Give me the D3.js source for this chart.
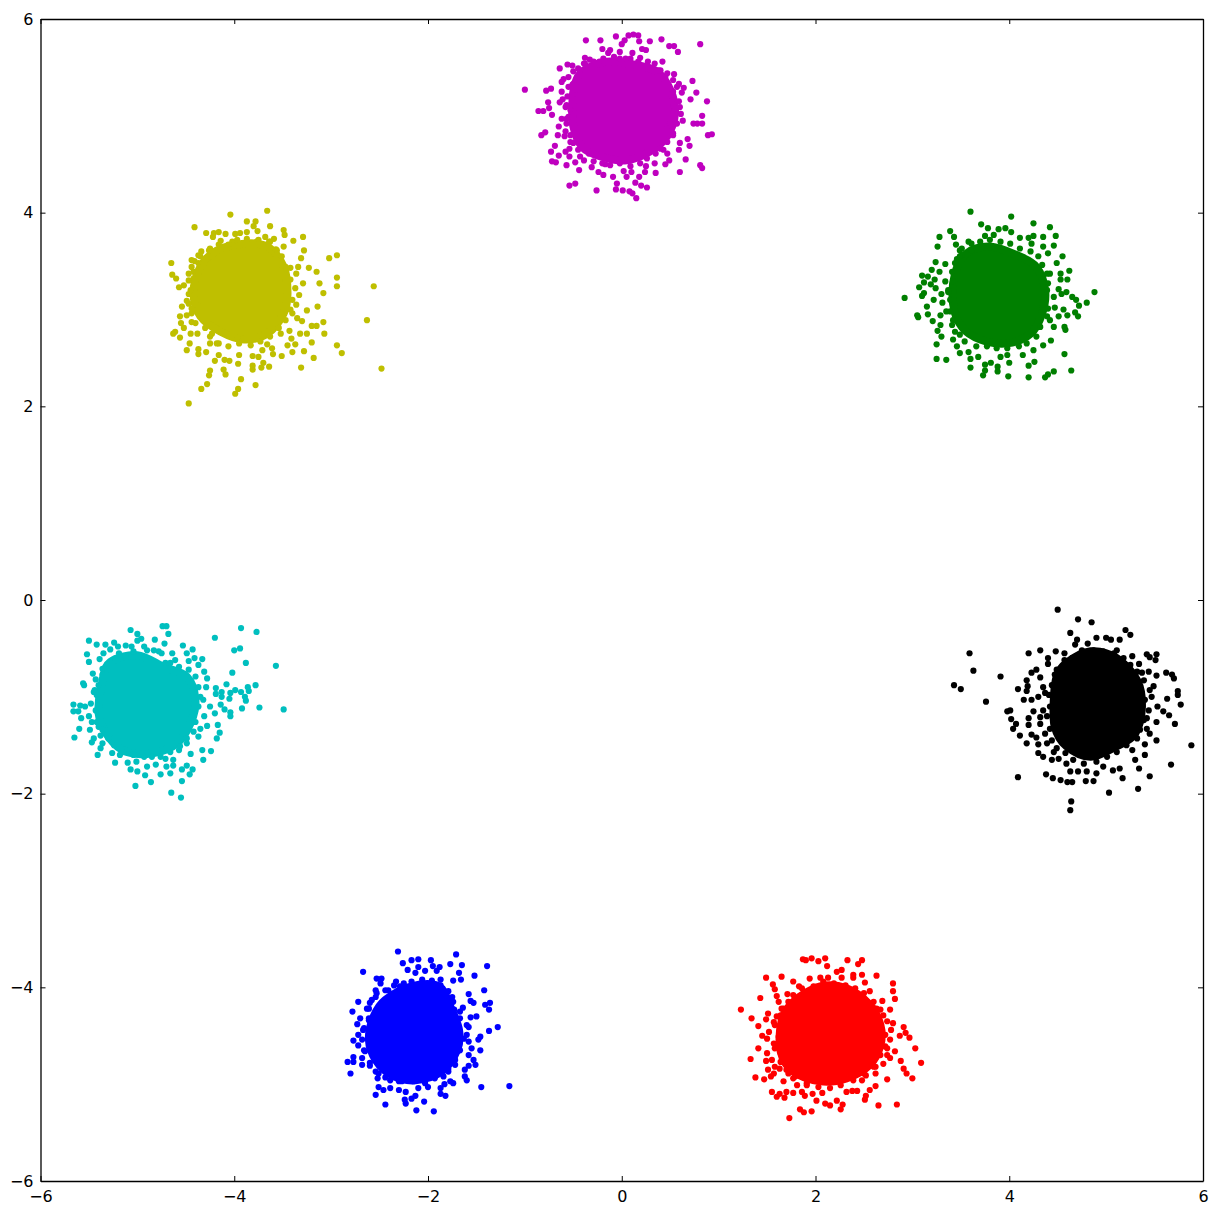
<!DOCTYPE html>
<html>
<head>
<meta charset="utf-8">
<script src="https://cdn.jsdelivr.net/npm/d3@7"></script>
<style>
html,body{margin:0;padding:0;background:#fff;}
svg{display:block;}
text{font-family:"DejaVu Sans",sans-serif;}
</style>
</head>
<body>
<svg id="chart" width="1217" height="1215"></svg>
<script>
const xDomain = [-6, 6];
const yDomain = [-6, 6];
const tickValues = [-6, -4, -2, 0, 2, 4, 6];

// Individually readable points.
// Each *Band array holds points estimated along the crowded edge of the solid mass.
// Each *Core array is the traced outline of a region where points overlap into solid colour.
const magentaPoints = [[-1.00,5.27],[-.37,5.78],[-.22,5.78],[-.06,5.82],[.07,5.83],[.12,5.84],[.17,5.83],[.03,5.78],[.18,5.77],[.29,5.77],[.41,5.79],[.49,5.72],[.54,5.72],[.58,5.66],[.81,5.74],[-.20,5.69],[-.12,5.68],[-.14,5.65],[0,5.74],[-.02,5.66],[.21,5.69],[.25,5.68],[.11,5.65],[-.38,5.60],[-.33,5.58],[-.23,5.56],[.04,5.59],[.19,5.60],[.42,5.56],[.27,5.56],[-.56,5.53],[-.51,5.52],[-.39,5.54],[-.64,5.49],[-.50,5.46],[-.45,5.49],[.34,5.54],[.40,5.47],[.47,5.44],[.54,5.43],[-.55,5.40],[-.60,5.38],[-.62,5.35],[.73,5.36],[.59,5.33],[.64,5.29],[.77,5.24],[.62,5.24],[.53,5.25],[.71,5.17],[.88,5.15],[-.78,5.26],[-.73,5.28],[-.62,5.25],[-.55,5.30],[-.50,5.33],[-.56,5.20],[-.61,5.17],[-.64,5.14],[-.76,5.14],[-.75,5.08],[-.86,5.05],[-.81,5.05],[-.72,5.01],[-.58,5.09],[-.53,5.06],[.60,5.09],[.53,5.03],[.61,5.02],[.83,5.00],[.63,4.95],[.57,4.92],[.74,4.92],[.78,4.92],[.83,4.92],[.89,4.80],[.93,4.81],[-.62,4.97],[-.57,4.97],[-.65,4.89],[-.79,4.83],[-.83,4.80],[-.66,4.80],[-.58,4.84],[-.59,4.79],[-.53,4.73],[-.69,4.69],[-.73,4.63],[-.65,4.59],[-.58,4.63],[-.54,4.66],[-.54,4.58],[-.72,4.53],[-.68,4.52],[-.57,4.49],[-.48,4.52],[-.43,4.58],[-.39,4.54],[-.44,4.44],[-.31,4.47],[-.26,4.60],[-.24,4.42],[-.19,4.39],[-.17,4.50],[-.09,4.37],[-.54,4.28],[-.48,4.30],[-.26,4.23],[-.05,4.30],[-.06,4.24],[.01,4.23],[.08,4.22],[.11,4.20],[.15,4.15],[.05,4.37],[.14,4.31],[.20,4.28],[.26,4.26],[.18,4.37],[.02,4.43],[.10,4.42],[.24,4.42],[.25,4.48],[.35,4.41],[.34,4.51],[.45,4.50],[.49,4.54],[.60,4.42],[.66,4.55],[.81,4.49],[.83,4.46],[.59,4.65],[.70,4.69],[.68,4.76],[.60,4.72],[.53,4.80],[.47,4.89],[.43,4.65],[.47,4.61]];
const magentaBand = [[-.43,5.47],[-.38,5.54],[-.29,5.56],[-.19,5.59],[-.08,5.61],[-.02,5.59],[.09,5.59],[.17,5.56],[.26,5.51],[.38,5.47],[.45,5.40],[.53,5.37],[.57,5.30],[.53,5.18],[.59,5.15],[.55,5.08],[.50,4.92],[.53,4.82],[.47,4.73],[.40,4.66],[.35,4.61],[.26,4.56],[.19,4.51],[.09,4.48],[-.02,4.51],[-.12,4.49],[-.20,4.51],[-.29,4.53],[-.34,4.61],[-.45,4.65],[-.50,4.72],[-.53,4.80],[-.57,4.92],[-.55,4.99],[-.57,5.11],[-.51,5.22],[-.51,5.32],[-.46,5.40]];
const magentaCore = [[-.39,5.47],[-.15,5.56],[.12,5.53],[.36,5.46],[.50,5.27],[.55,5.03],[.47,4.79],[.29,4.63],[.05,4.54],[-.22,4.58],[-.41,4.68],[-.50,4.89],[-.51,5.13],[-.48,5.34]];

const yellowPoints = [[-3.66,4.02],[-4.04,3.98],[-4.41,3.85],[-3.87,3.91],[-3.78,3.91],[-3.63,3.86],[-3.80,3.86],[-3.49,3.82],[-3.48,3.77],[-3.29,3.75],[-3.39,3.71],[-4.29,3.79],[-4.21,3.79],[-4.16,3.80],[-4.09,3.78],[-4.22,3.75],[-3.99,3.78],[-3.94,3.79],[-3.87,3.80],[-3.76,3.81],[-3.68,3.75],[-3.59,3.73],[-4.14,3.71],[-4.02,3.70],[-3.77,3.70],[-3.63,3.70],[-3.49,3.65],[-3.57,3.62],[-3.28,3.61],[-3.31,3.53],[-3.02,3.53],[-2.94,3.56],[-4.34,3.60],[-4.25,3.63],[-4.37,3.56],[-4.44,3.51],[-4.41,3.50],[-4.65,3.48],[-4.64,3.36],[-4.60,3.32],[-4.47,3.37],[-4.52,3.25],[-4.57,3.23],[-4.42,3.39],[-4.47,3.16],[-4.49,3.09],[-4.54,3.03],[-4.44,3.01],[-4.38,3.04],[-4.49,2.94],[-4.56,2.93],[-4.55,2.86],[-4.44,2.87],[-4.52,2.81],[-4.63,2.75],[-4.61,2.77],[-4.56,2.71],[-4.45,2.75],[-4.38,2.75],[-4.46,2.65],[-4.49,2.58],[-4.37,2.59],[-4.37,2.54],[-4.29,2.56],[-4.25,2.65],[-4.16,2.65],[-4.20,2.47],[-4.16,2.53],[-4.10,2.48],[-4.05,2.47],[-3.96,2.44],[-3.95,2.53],[-4.25,2.37],[-4.26,2.32],[-4.11,2.38],[-4.09,2.33],[-4.28,2.23],[-4.34,2.18],[-4.47,2.03],[-3.93,2.28],[-3.96,2.18],[-3.99,2.13],[-3.78,2.22],[-3.81,2.42],[-3.81,2.38],[-3.72,2.40],[-3.70,2.45],[-3.64,2.41],[-3.81,2.52],[-3.75,2.51],[-3.71,2.58],[-3.61,2.60],[-3.60,2.54],[-3.66,2.64],[-3.51,2.52],[-3.31,2.40],[-3.18,2.50],[-3.28,2.57],[-3.40,2.56],[-3.37,2.64],[-3.45,2.63],[-3.41,2.70],[-3.20,2.66],[-3.43,2.78],[-3.32,2.75],[-3.25,2.75],[-3.07,2.75],[-2.94,2.63],[-2.89,2.55],[-2.48,2.39],[-2.63,2.89],[-2.56,3.24],[-2.94,3.33],[-2.94,3.24],[-3.12,3.27],[-3.08,3.17],[-3.29,3.27],[-3.15,3.39],[-3.23,3.43],[-3.34,3.44],[-3.42,3.43],[-3.36,3.37],[-3.25,2.99],[-3.14,3.03],[-3.08,2.87],[-3.20,2.83],[-3.15,2.83],[-3.33,3.15],[-3.36,3.05],[-3.35,2.91],[-3.30,2.88],[-3.40,2.96],[-3.52,2.75],[-3.97,2.71],[-4.23,2.75]];
const yellowBand = [[-4.35,3.55],[-4.26,3.61],[-4.16,3.67],[-4.06,3.67],[-3.97,3.72],[-3.87,3.73],[-3.75,3.72],[-3.64,3.70],[-3.56,3.61],[-3.51,3.55],[-3.47,3.44],[-3.42,3.31],[-3.37,3.22],[-3.40,3.10],[-3.42,3.00],[-3.47,2.89],[-3.54,2.81],[-3.63,2.72],[-3.73,2.67],[-3.83,2.63],[-3.95,2.65],[-4.06,2.62],[-4.18,2.65],[-4.25,2.72],[-4.30,2.81],[-4.40,2.86],[-4.44,2.96],[-4.47,3.06],[-4.45,3.20],[-4.47,3.30],[-4.42,3.32],[-4.44,3.44],[-4.37,3.48]];
const yellowCore = [[-4.35,3.44],[-4.18,3.61],[-3.90,3.68],[-3.66,3.65],[-3.49,3.44],[-3.45,3.17],[-3.49,2.96],[-3.66,2.75],[-3.90,2.69],[-4.14,2.77],[-4.35,2.93],[-4.42,3.17]];

const greenPoints = [[3.60,4.01],[4.02,3.96],[4.25,3.89],[3.71,3.88],[4.42,3.85],[3.78,3.84],[3.39,3.81],[3.43,3.75],[3.28,3.75],[3.26,3.65],[4.48,3.76],[4.35,3.75],[4.25,3.76],[4.20,3.74],[4.11,3.74],[3.96,3.84],[3.89,3.83],[3.84,3.77],[3.75,3.76],[4.02,3.80],[4.46,3.66],[4.35,3.65],[4.23,3.68],[3.45,3.67],[3.58,3.70],[3.49,3.61],[3.61,3.61],[3.51,3.56],[3.46,3.52],[3.24,3.49],[3.34,3.47],[3.20,3.41],[3.28,3.39],[3.10,3.35],[3.16,3.34],[3.23,3.31],[3.12,3.28],[3.19,3.26],[3.07,3.23],[3.34,3.29],[3.24,3.22],[3.30,3.16],[3.37,3.18],[3.12,3.17],[3.10,3.14],[2.92,3.12],[3.22,3.10],[3.15,3.03],[3.31,3.07],[3.05,2.94],[3.06,2.92],[3.16,2.95],[3.21,2.88],[3.29,2.94],[3.39,2.98],[3.29,2.84],[3.26,2.78],[3.30,2.72],[3.25,2.64],[3.41,2.84],[3.42,2.69],[3.46,2.62],[3.49,2.55],[3.58,2.56],[3.68,2.51],[3.25,2.49],[3.35,2.48],[3.60,2.49],[3.60,2.40],[3.75,2.43],[3.81,2.45],[3.88,2.41],[3.75,2.37],[3.73,2.32],[3.88,2.36],[3.99,2.31],[4.00,2.45],[3.91,2.51],[3.98,2.53],[4.14,2.53],[4.20,2.42],[4.26,2.46],[4.20,2.30],[4.37,2.30],[4.40,2.33],[4.46,2.36],[4.64,2.37],[4.57,2.54],[4.25,2.58],[4.35,2.63],[4.43,2.68],[4.58,2.79],[4.57,2.82],[4.46,2.82],[4.42,2.89],[4.51,2.93],[4.56,3.00],[4.60,2.94],[4.68,2.97],[4.71,2.93],[4.72,3.04],[4.80,3.07],[4.88,3.18],[4.65,3.13],[4.69,3.10],[4.47,3.02],[4.59,3.18],[4.51,3.21],[4.54,3.16],[4.60,3.31],[4.62,3.40],[4.53,3.37],[4.53,3.31],[4.55,3.55],[4.49,3.48],[4.40,3.58],[4.42,3.37],[4.39,3.20]];
const greenBand = [[3.51,3.63],[3.61,3.68],[3.70,3.70],[3.80,3.72],[3.91,3.70],[4.01,3.68],[4.11,3.63],[4.22,3.60],[4.30,3.55],[4.34,3.46],[4.39,3.37],[4.40,3.27],[4.46,3.13],[4.40,3.01],[4.39,2.93],[4.32,2.82],[4.28,2.72],[4.18,2.65],[4.10,2.62],[3.98,2.60],[3.87,2.60],[3.77,2.62],[3.66,2.62],[3.54,2.67],[3.49,2.74],[3.44,2.77],[3.42,2.89],[3.35,2.98],[3.39,3.10],[3.37,3.20],[3.42,3.29],[3.41,3.39],[3.44,3.48],[3.49,3.55]];
const greenCore = [[3.56,3.58],[3.80,3.65],[4.08,3.56],[4.28,3.44],[4.37,3.20],[4.34,2.96],[4.22,2.75],[3.98,2.65],[3.70,2.69],[3.51,2.82],[3.42,3.06],[3.44,3.37]];

const blackPoints = [[4.50,-.10],[4.71,-.20],[4.85,-.23],[4.63,-.34],[5.20,-.31],[5.25,-.36],[4.90,-.39],[5.00,-.39],[5.05,-.41],[5.14,-.41],[4.70,-.41],[4.68,-.46],[4.81,-.45],[5.11,-.52],[3.59,-.55],[4.20,-.55],[4.32,-.52],[4.48,-.53],[4.57,-.55],[4.40,-.60],[4.57,-.62],[5.27,-.58],[5.42,-.56],[5.52,-.56],[5.45,-.59],[5.51,-.62],[5.34,-.66],[3.63,-.73],[3.91,-.79],[4.40,-.66],[4.49,-.72],[4.28,-.72],[4.23,-.75],[4.32,-.80],[4.18,-.83],[4.19,-.89],[4.09,-.92],[4.18,-.94],[3.43,-.88],[3.50,-.92],[3.76,-1.05],[4.15,-1.03],[4.23,-1.03],[4.30,-1.00],[4.35,-.90],[4.37,-.96],[4.25,-1.15],[4.01,-1.14],[3.98,-1.15],[4.35,-1.14],[4.02,-1.23],[4.07,-1.28],[4.04,-1.33],[4.20,-1.22],[4.20,-1.29],[4.32,-1.21],[4.32,-1.28],[4.11,-1.40],[4.23,-1.39],[4.28,-1.42],[4.18,-1.48],[4.30,-1.49],[4.37,-1.38],[4.39,-1.48],[4.30,-1.58],[4.35,-1.62],[4.46,-1.57],[4.44,-1.65],[4.51,-1.64],[4.59,-1.69],[4.09,-1.83],[4.38,-1.80],[4.45,-1.84],[4.53,-1.86],[4.60,-1.88],[4.65,-1.88],[4.63,-1.77],[4.71,-1.77],[4.80,-1.77],[4.79,-1.87],[4.87,-1.87],[4.64,-2.08],[4.63,-2.17],[5.03,-1.99],[5.33,-1.95],[5.17,-1.84],[5.45,-1.82],[5.67,-1.70],[5.34,-1.74],[5.30,-1.65],[5.14,-1.74],[5.07,-1.76],[4.90,-1.79],[4.97,-1.72],[5.40,-1.60],[5.27,-1.55],[5.40,-1.49],[5.52,-1.45],[5.88,-1.50],[5.71,-1.28],[5.65,-1.19],[5.52,-1.26],[5.45,-1.38],[5.42,-1.33],[5.42,-1.22],[5.59,-1.15],[5.53,-1.10],[5.77,-1.08],[5.63,-1.02],[5.74,-.94],[5.74,-.98],[5.49,-.89],[5.47,-1.00],[5.70,-.81],[5.68,-.77],[5.62,-.75],[5.52,-.78],[5.44,-.74],[5.37,-.75]];
const blackBand = [[4.53,-.72],[4.65,-.60],[4.75,-.52],[4.87,-.52],[4.97,-.53],[5.08,-.55],[5.18,-.60],[5.25,-.67],[5.32,-.74],[5.39,-.83],[5.45,-.93],[5.40,-1.03],[5.44,-1.14],[5.39,-1.24],[5.35,-1.34],[5.32,-1.43],[5.21,-1.50],[5.11,-1.57],[5.01,-1.62],[4.90,-1.67],[4.77,-1.69],[4.66,-1.65],[4.58,-1.58],[4.49,-1.53],[4.44,-1.45],[4.42,-1.33],[4.39,-1.20],[4.42,-1.10],[4.41,-.98],[4.44,-.88],[4.47,-.77]];
const blackCore = [[4.59,-.65],[4.84,-.53],[5.11,-.60],[5.32,-.83],[5.37,-1.10],[5.30,-1.38],[5.11,-1.51],[4.84,-1.62],[4.59,-1.51],[4.47,-1.31],[4.46,-1.03],[4.49,-.79]];

const cyanPoints = [[-4.74,-.27],[-4.70,-.27],[-5.07,-.31],[-5.00,-.35],[-4.68,-.35],[-4.96,-.40],[-5.50,-.42],[-4.20,-.39],[-3.93,-.29],[-3.77,-.33],[-5.42,-.46],[-5.33,-.46],[-5.24,-.44],[-5.20,-.48],[-5.12,-.47],[-5.06,-.48],[-5.00,-.42],[-4.82,-.41],[-4.72,-.45],[-4.53,-.47],[-4.43,-.51],[-4.00,-.52],[-3.94,-.50],[-5.28,-.51],[-5.35,-.55],[-5.52,-.56],[-5.19,-.55],[-4.90,-.52],[-4.78,-.53],[-4.64,-.55],[-4.49,-.55],[-5.39,-.61],[-5.50,-.64],[-4.61,-.62],[-4.71,-.65],[-4.47,-.63],[-4.41,-.60],[-4.33,-.61],[-4.37,-.67],[-3.88,-.65],[-3.57,-.68],[-4.02,-.75],[-4.31,-.74],[-4.28,-.81],[-5.36,-.71],[-5.46,-.76],[-5.43,-.82],[-5.40,-.88],[-5.56,-.86],[-5.55,-.88],[-5.44,-.93],[-5.42,-.98],[-4.29,-.90],[-4.19,-.91],[-4.08,-.87],[-4.13,-.95],[-4.19,-.97],[-4.13,-1.00],[-4.05,-1.02],[-4.04,-.96],[-3.99,-.93],[-3.93,-.95],[-3.86,-.90],[-3.85,-.94],[-3.78,-.88],[-3.89,-1.00],[-3.88,-1.04],[-3.92,-1.12],[-3.74,-1.11],[-3.49,-1.13],[-4.14,-1.08],[-4.10,-1.13],[-4.04,-1.16],[-4.04,-1.20],[-4.25,-1.10],[-4.20,-1.17],[-4.32,-1.03],[-5.66,-1.08],[-5.66,-1.15],[-5.61,-1.15],[-5.59,-1.09],[-5.54,-1.10],[-5.48,-1.07],[-5.58,-1.22],[-5.50,-1.20],[-5.47,-1.26],[-5.60,-1.33],[-5.49,-1.34],[-5.65,-1.42],[-5.40,-1.31],[-5.45,-1.43],[-5.47,-1.47],[-5.38,-1.40],[-5.36,-1.48],[-5.38,-1.53],[-5.41,-1.60],[-5.26,-1.58],[-5.18,-1.60],[-5.23,-1.68],[-5.10,-1.68],[-5.01,-1.67],[-5.07,-1.75],[-5.00,-1.77],[-4.92,-1.81],[-5.02,-1.92],[-4.86,-1.88],[-4.90,-1.72],[-4.81,-1.70],[-4.85,-1.62],[-4.71,-1.64],[-4.63,-1.65],[-4.70,-1.72],[-4.63,-1.71],[-4.76,-1.80],[-4.66,-1.79],[-4.65,-1.99],[-4.55,-2.04],[-4.54,-1.87],[-4.54,-1.75],[-4.49,-1.71],[-4.46,-1.80],[-4.43,-1.75],[-4.32,-1.65],[-4.45,-1.59],[-4.24,-1.56],[-4.33,-1.55],[-4.18,-1.43],[-4.15,-1.37],[-4.17,-1.29],[-4.28,-1.30],[-4.35,-1.33],[-4.37,-1.41],[-4.49,-1.48],[-4.57,-1.55]];
const cyanBand = [[-5.31,-.67],[-5.23,-.62],[-5.12,-.58],[-5.04,-.53],[-4.93,-.48],[-4.83,-.52],[-4.75,-.55],[-4.66,-.65],[-4.57,-.69],[-4.47,-.72],[-4.40,-.79],[-4.37,-.90],[-4.35,-1.00],[-4.37,-1.10],[-4.31,-1.20],[-4.40,-1.26],[-4.42,-1.36],[-4.49,-1.43],[-4.56,-1.51],[-4.66,-1.57],[-4.76,-1.62],[-4.93,-1.62],[-5.04,-1.60],[-5.14,-1.57],[-5.24,-1.50],[-5.30,-1.43],[-5.36,-1.34],[-5.42,-1.26],[-5.43,-1.14],[-5.40,-1.03],[-5.45,-.95],[-5.36,-.77]];
const cyanCore = [[-5.28,-.64],[-5.00,-.57],[-4.73,-.69],[-4.49,-.79],[-4.40,-1.03],[-4.45,-1.27],[-4.59,-1.48],[-4.83,-1.58],[-5.11,-1.57],[-5.30,-1.41],[-5.40,-1.17],[-5.36,-.83]];

const bluePoints = [[-2.31,-3.63],[-1.71,-3.66],[-2.10,-3.71],[-2.17,-3.72],[-2.26,-3.75],[-1.97,-3.72],[-1.95,-3.78],[-1.88,-3.79],[-1.77,-3.76],[-1.65,-3.77],[-1.39,-3.78],[-2.10,-3.79],[-2.21,-3.82],[-1.91,-3.83],[-2.03,-3.83],[-2.13,-3.85],[-2.67,-3.84],[-1.68,-3.85],[-1.52,-3.88],[-1.66,-3.92],[-1.74,-3.93],[-1.87,-3.92],[-2.53,-3.91],[-2.48,-3.91],[-2.33,-3.94],[-2.49,-3.96],[-1.42,-4.03],[-1.58,-4.07],[-1.75,-4.10],[-1.56,-4.14],[-1.53,-4.16],[-1.36,-4.16],[-1.41,-4.18],[-1.37,-4.23],[-1.64,-4.21],[-1.73,-4.23],[-1.56,-4.31],[-1.50,-4.30],[-1.67,-4.32],[-1.28,-4.41],[-1.37,-4.45],[-1.46,-4.51],[-1.48,-4.54],[-1.58,-4.41],[-1.60,-4.49],[-1.58,-4.56],[-1.46,-4.65],[-1.55,-4.63],[-1.58,-4.70],[-1.53,-4.75],[-1.51,-4.80],[-1.58,-4.81],[-1.62,-4.85],[-1.62,-4.92],[-1.60,-4.96],[-1.45,-5.03],[-1.16,-5.02],[-1.74,-4.99],[-1.77,-4.97],[-1.83,-5.00],[-1.87,-5.04],[-1.82,-5.12],[-1.87,-5.10],[-1.72,-4.80],[-1.79,-4.84],[-1.84,-4.92],[-1.94,-5.28],[-2.12,-5.27],[-2.04,-5.18],[-2.23,-5.20],[-2.24,-5.16],[-2.17,-5.15],[-2.13,-5.12],[-2.44,-5.21],[-2.54,-5.11],[-2.46,-5.06],[-2.51,-5.03],[-2.39,-5.04],[-2.30,-5.06],[-2.23,-5.08],[-2.10,-5.04],[-2.00,-5.03],[-2.80,-4.89],[-2.83,-4.77],[-2.77,-4.77],[-2.77,-4.72],[-2.68,-4.73],[-2.68,-4.80],[-2.60,-4.81],[-2.54,-4.87],[-2.52,-4.94],[-2.44,-4.93],[-2.30,-4.97],[-2.77,-4.55],[-2.72,-4.60],[-2.72,-4.49],[-2.67,-4.44],[-2.73,-4.38],[-2.70,-4.32],[-2.78,-4.25],[-2.72,-4.15],[-2.60,-4.16],[-2.63,-4.22],[-2.61,-4.34],[-2.54,-4.03],[-2.54,-4.10],[-2.41,-4.03],[-2.29,-3.99],[-2.66,-4.65]];
const blueBand = [[-2.58,-4.13],[-2.53,-4.06],[-2.44,-4.03],[-2.35,-3.98],[-2.25,-3.96],[-2.17,-3.94],[-2.06,-3.92],[-1.96,-3.93],[-1.87,-3.98],[-1.79,-4.04],[-1.74,-4.15],[-1.67,-4.25],[-1.60,-4.39],[-1.63,-4.53],[-1.67,-4.65],[-1.72,-4.75],[-1.79,-4.87],[-1.93,-4.94],[-2.03,-4.99],[-2.15,-4.97],[-2.27,-4.97],[-2.39,-4.96],[-2.51,-4.89],[-2.60,-4.78],[-2.65,-4.66],[-2.68,-4.54],[-2.66,-4.42],[-2.61,-4.32],[-2.61,-4.22]];
const blueCore = [[-2.44,-4.13],[-2.17,-3.99],[-1.89,-3.99],[-1.77,-4.20],[-1.68,-4.44],[-1.70,-4.65],[-1.86,-4.87],[-2.13,-4.96],[-2.37,-4.91],[-2.54,-4.75],[-2.61,-4.54],[-2.56,-4.30]];

const redPoints = [[1.87,-3.71],[1.90,-3.72],[1.96,-3.70],[2.03,-3.73],[2.10,-3.70],[2.12,-3.78],[2.33,-3.72],[2.44,-3.76],[2.48,-3.72],[2.22,-3.84],[2.27,-3.82],[2.39,-3.87],[2.39,-3.90],[2.48,-3.87],[2.63,-3.88],[1.49,-3.90],[1.65,-3.89],[1.56,-3.97],[1.77,-3.94],[1.94,-3.91],[2.05,-3.90],[2.13,-3.90],[2.27,-3.90],[2.51,-3.95],[2.80,-3.96],[2.80,-4.04],[1.58,-4.02],[1.83,-3.99],[1.60,-4.09],[1.71,-4.07],[1.43,-4.11],[2.82,-4.12],[2.56,-4.04],[1.62,-4.15],[1.23,-4.23],[1.51,-4.27],[1.34,-4.32],[1.49,-4.33],[1.60,-4.30],[1.65,-4.22],[1.41,-4.40],[1.57,-4.36],[1.52,-4.46],[1.45,-4.50],[1.50,-4.53],[1.57,-4.58],[1.41,-4.63],[1.50,-4.68],[1.33,-4.74],[1.49,-4.76],[1.55,-4.75],[1.64,-4.68],[1.69,-4.75],[1.58,-4.82],[1.51,-4.85],[1.57,-4.89],[1.63,-4.84],[1.38,-4.93],[1.47,-4.95],[1.54,-4.92],[1.67,-4.97],[1.72,-4.89],[1.77,-4.94],[1.81,-5.01],[1.91,-4.99],[1.55,-5.08],[1.60,-5.13],[1.63,-5.10],[1.68,-5.14],[1.70,-5.08],[1.77,-5.09],[1.86,-5.08],[1.89,-5.12],[1.97,-5.10],[2.01,-5.17],[2.07,-5.09],[1.84,-5.26],[1.88,-5.29],[1.96,-5.28],[1.73,-5.35],[2.10,-5.20],[2.15,-5.22],[2.26,-5.26],[2.22,-5.17],[2.28,-5.21],[2.32,-5.08],[2.38,-5.07],[2.43,-5.07],[2.51,-5.16],[2.52,-5.12],[2.56,-5.06],[2.62,-5.02],[2.65,-5.22],[2.84,-5.21],[2.74,-4.95],[2.48,-4.96],[2.52,-4.91],[2.62,-4.89],[2.62,-4.82],[3.00,-4.94],[2.94,-4.89],[2.91,-4.84],[3.09,-4.78],[2.88,-4.76],[3.03,-4.63],[2.82,-4.66],[2.77,-4.73],[2.70,-4.79],[2.74,-4.70],[2.91,-4.41],[2.93,-4.47],[2.97,-4.52],[2.87,-4.50],[2.80,-4.37],[2.78,-4.44],[2.77,-4.54],[2.77,-4.23],[2.69,-4.14],[2.63,-4.22],[2.70,-4.29],[2.72,-4.61]];
const redBand = [[1.72,-4.15],[1.77,-4.08],[1.86,-4.01],[1.98,-3.99],[2.08,-3.94],[2.19,-3.96],[2.31,-3.98],[2.41,-4.01],[2.50,-4.06],[2.60,-4.15],[2.67,-4.23],[2.74,-4.35],[2.72,-4.49],[2.74,-4.63],[2.67,-4.70],[2.60,-4.82],[2.50,-4.89],[2.39,-4.96],[2.26,-5.01],[2.15,-5.04],[2.03,-5.03],[1.91,-5.01],[1.79,-4.92],[1.70,-4.85],[1.64,-4.77],[1.58,-4.63],[1.62,-4.51],[1.58,-4.39],[1.64,-4.29],[1.67,-4.22]];
const redCore = [[1.77,-4.15],[2.05,-3.99],[2.32,-4.01],[2.56,-4.18],[2.67,-4.39],[2.67,-4.60],[2.56,-4.80],[2.32,-4.94],[2.05,-4.97],[1.77,-4.87],[1.64,-4.66],[1.65,-4.35]];

const series = [
  {name: "cyan",    color: "#00bfbf", points: cyanPoints.concat(cyanBand),       core: cyanCore},
  {name: "yellow",  color: "#bfbf00", points: yellowPoints.concat(yellowBand),   core: yellowCore},
  {name: "magenta", color: "#bf00bf", points: magentaPoints.concat(magentaBand), core: magentaCore},
  {name: "green",   color: "#007f00", points: greenPoints.concat(greenBand),     core: greenCore},
  {name: "black",   color: "#000000", points: blackPoints.concat(blackBand),     core: blackCore},
  {name: "red",     color: "#ff0000", points: redPoints.concat(redBand),         core: redCore},
  {name: "blue",    color: "#0000ff", points: bluePoints.concat(blueBand),       core: blueCore}
];

const left = 40.5, right = 1203, top_ = 19, bottom = 1181;
const x = d3.scaleLinear().domain(xDomain).range([left, right]);
const y = d3.scaleLinear().domain(yDomain).range([bottom, top_]);
const svg = d3.select("#chart");
const outline = d3.line().x(d => x(d[0])).y(d => y(d[1])).curve(d3.curveCardinalClosed);

const groups = svg.selectAll("g.series").data(series).join("g")
  .attr("class", "series").attr("data-name", d => d.name).attr("fill", d => d.color);
groups.append("path").attr("class", "core").attr("d", d => outline(d.core))
  .attr("stroke", d => d.color).attr("stroke-width", 8).attr("stroke-linejoin", "round");
groups.selectAll("circle").data(d => d.points).join("circle")
  .attr("cx", d => x(d[0])).attr("cy", d => y(d[1])).attr("r", 3.1);

const fmt = d3.format("d");
const styleAxis = g => {
  g.selectAll("path.domain").attr("stroke", "#000").attr("stroke-width", 1.3);
  g.selectAll("line").attr("stroke", "#000").attr("stroke-width", 1);
  g.selectAll("text").attr("font-size", 16).attr("font-family", '"DejaVu Sans", sans-serif').attr("fill", "#000");
};
svg.append("g").attr("transform", `translate(0,${bottom})`)
  .call(d3.axisBottom(x).tickValues(tickValues).tickFormat(fmt).tickSizeInner(-5).tickSizeOuter(0).tickPadding(9.6)).call(styleAxis);
svg.append("g").attr("transform", `translate(${left},0)`)
  .call(d3.axisLeft(y).tickValues(tickValues).tickFormat(fmt).tickSizeInner(-5).tickSizeOuter(0).tickPadding(7)).call(styleAxis);
svg.append("g").attr("transform", `translate(0,${top_})`)
  .call(d3.axisTop(x).tickValues(tickValues).tickFormat("").tickSizeInner(-5).tickSizeOuter(0)).call(styleAxis);
svg.append("g").attr("transform", `translate(${right},0)`)
  .call(d3.axisRight(y).tickValues(tickValues).tickFormat("").tickSizeInner(-5).tickSizeOuter(0)).call(styleAxis);
</script>
</body>
</html>
